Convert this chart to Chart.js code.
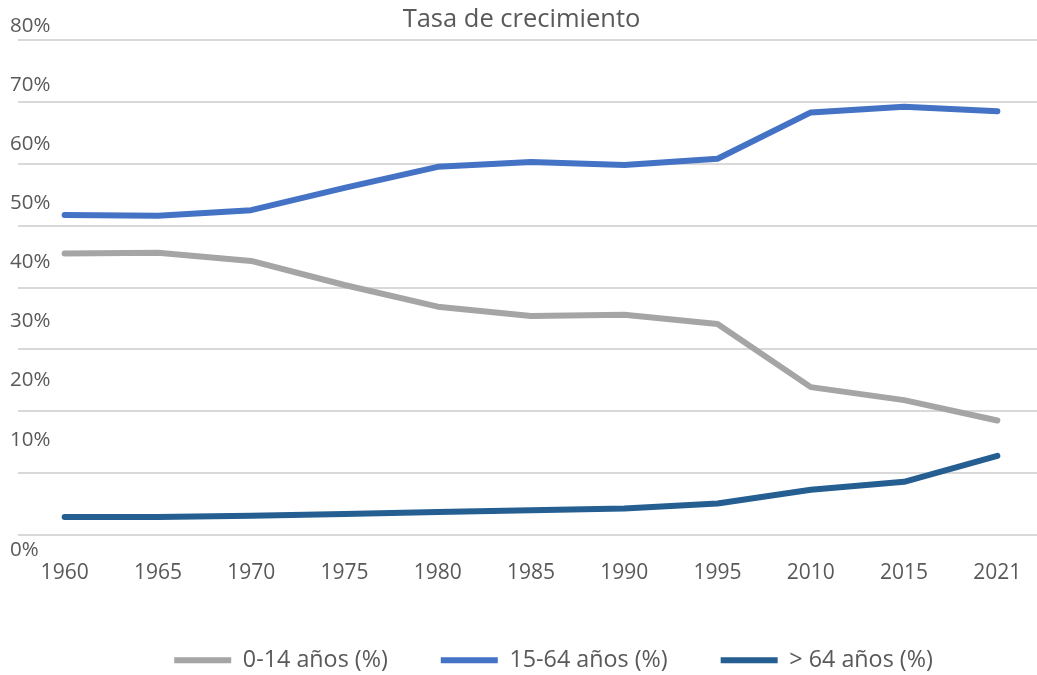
<!DOCTYPE html>
<html>
<head>
<meta charset="utf-8">
<script src="https://cdn.jsdelivr.net/npm/chart.js@4.4.1/dist/chart.umd.min.js"></script>
<style>
  html, body { margin: 0; padding: 0; background: #ffffff; overflow: hidden; width: 1037px; height: 675px; }
  #wrap { position: absolute; left: 0; top: 0; width: 1060px; height: 682px; }
</style>
</head>
<body>
<div id="wrap"><canvas id="c"></canvas></div>
<script>
// ---- data ----
const chartTitle = 'Tasa de crecimiento';
const years = ['1960', '1965', '1970', '1975', '1980', '1985', '1990', '1995', '2010', '2015', '2021'];
const seriesNames = ['0-14 años (%)', '15-64 años (%)', '> 64 años (%)'];
const age0to14 = [45.5, 45.6, 44.3, 40.4, 36.9, 35.4, 35.6, 34.1, 23.9, 21.8, 18.5];
const age15to64 = [51.7, 51.6, 52.5, 56.1, 59.5, 60.3, 59.8, 60.8, 68.3, 69.2, 68.5];
const age65plus = [2.9, 2.9, 3.1, 3.4, 3.7, 4.0, 4.3, 5.1, 7.3, 8.6, 12.8];
const yTickValues = [0, 10, 20, 30, 40, 50, 60, 70, 80];
const yTickLabels = ['0%', '10%', '20%', '30%', '40%', '50%', '60%', '70%', '80%'];

const colors = ['#A5A5A5', '#4472C4', '#255E91'];
const textColor = '#595959';
const fontFamily = '"Open Sans", Lato, sans-serif';

// horizontal nudges for title and legend blocks (px)
const shiftPlugin = {
  id: 'shiftBlocks',
  afterLayout(chart) {
    const lg = chart.legend;
    if (lg) { lg.left += 22.5; lg.right += 22.5; }
    const tb = chart.titleBlock;
    if (tb) { tb.left -= 9.5; tb.right -= 9.5; }
  }
};

// value-axis labels: placed through the 'yl' label scale (0% through the main scale)
const yLabelPlugin = {
  id: 'yAxisLabels',
  afterDraw(chart) {
    const ctx = chart.ctx;
    const y = chart.scales.y;
    const yl = chart.scales.yl;
    ctx.save();
    ctx.font = '20.5px ' + fontFamily;
    ctx.fillStyle = textColor;
    ctx.textAlign = 'left';
    ctx.textBaseline = 'middle';
    yTickValues.forEach((v, i) => {
      const py = i === 0 ? y.getPixelForValue(v) + 15.5 : yl.getPixelForValue(v);
      ctx.fillText(yTickLabels[i], 10, py);
    });
    ctx.restore();
  }
};

const seriesValues = [age0to14, age15to64, age65plus];

new Chart(document.getElementById('c'), {
  type: 'line',
  data: {
    labels: years,
    datasets: seriesNames.map((name, i) => ({
      label: name,
      data: seriesValues[i],
      borderColor: colors[i],
      backgroundColor: colors[i],
      borderWidth: 6,
      borderCapStyle: 'round',
      borderJoinStyle: 'round',
      pointRadius: 0,
      pointHoverRadius: 0,
      tension: 0,
      fill: false
    }))
  },
  options: {
    responsive: true,
    maintainAspectRatio: false,
    devicePixelRatio: 1,
    animation: false,
    layout: { padding: { left: 18, right: 16, top: 0, bottom: 0 } },
    plugins: {
      title: {
        display: true,
        text: chartTitle,
        color: textColor,
        font: { family: fontFamily, size: 25.5, weight: 'normal' },
        padding: { top: 4.7, bottom: 4.7 }
      },
      legend: {
        display: true,
        position: 'bottom',
        labels: {
          usePointStyle: true,
          pointStyle: 'line',
          pointStyleWidth: 57,
          padding: 53,
          color: textColor,
          font: { family: fontFamily, size: 23.3 },
          generateLabels(chart) {
            const items = Chart.defaults.plugins.legend.labels.generateLabels(chart);
            items.forEach(it => { it.lineCap = 'butt'; it.lineWidth = 6; });
            return items;
          }
        }
      },
      tooltip: { enabled: false }
    },
    scales: {
      x: {
        type: 'category',
        offset: true,
        grid: { display: false, drawTicks: false },
        border: { display: false },
        ticks: {
          color: textColor,
          font: { family: fontFamily, size: 21 },
          padding: 25.5,
          maxRotation: 0,
          autoSkip: false
        },
        afterFit(scale) { scale.height = 60.7; }
      },
      y: {
        position: 'left',
        min: 0,
        max: 80,
        grid: { color: '#D9D9D9', lineWidth: 2, drawTicks: false },
        border: { display: false },
        afterBuildTicks(scale) { scale.ticks = yTickValues.map(v => ({ value: v })); },
        afterFit(scale) { scale.width = 0; },
        ticks: { display: false }
      },
      yl: {
        display: false,
        position: 'left',
        bounds: 'data',
        min: -6.12,
        max: 77.58
      }
    }
  },
  plugins: [shiftPlugin, yLabelPlugin]
});
</script>
</body>
</html>
